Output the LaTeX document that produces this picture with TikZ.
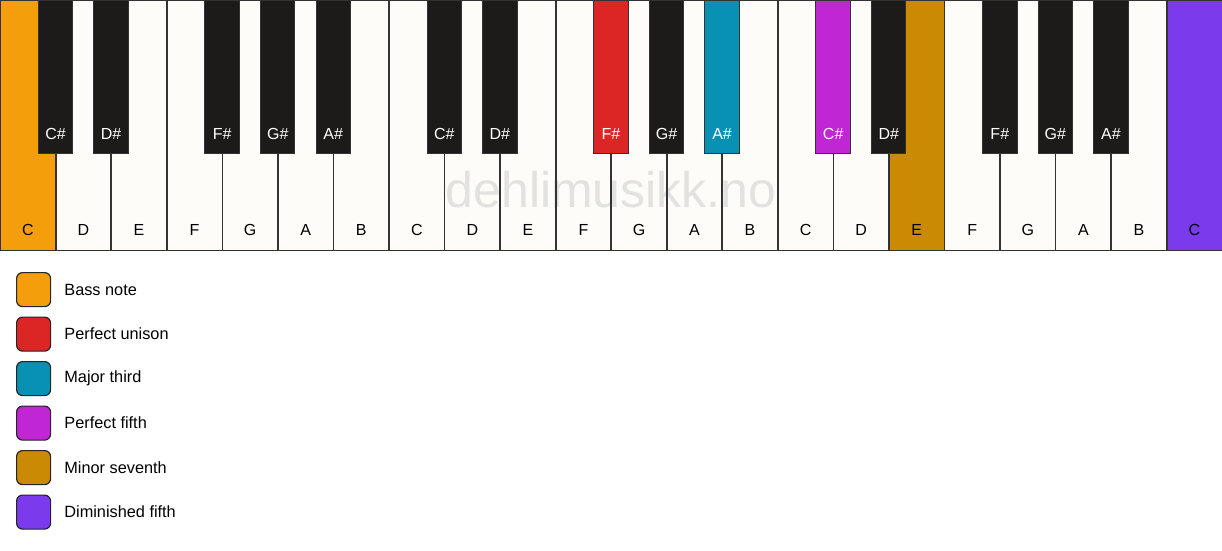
\documentclass[tikz,border=0pt]{standalone}
\usepackage{fontspec}
\setmainfont{Liberation Sans}
\definecolor{wkfill}{HTML}{FDFCF8}
\definecolor{bkfill}{HTML}{1C1B19}
\definecolor{keyline}{HTML}{333333}
\definecolor{cbass}{HTML}{F59E0B}
\definecolor{cunison}{HTML}{DC2626}
\definecolor{cthird}{HTML}{0891B2}
\definecolor{cfifth}{HTML}{C026D3}
\definecolor{cseventh}{HTML}{CA8A04}
\definecolor{cdim}{HTML}{7C3AED}
\definecolor{wmark}{HTML}{E2E2E0}
\tikzset{
  whitekey/.style={rectangle, inner sep=0pt, minimum width=55.545pt, minimum height=250pt, anchor=north west, fill=wkfill},
  keyborder/.style={draw=keyline, line width=1.3pt},
  blackkey/.style={rectangle, inner sep=0pt, minimum width=34.5pt, minimum height=153pt, anchor=north, fill=bkfill, draw=keyline, line width=1pt},
  wlabel/.style={font=\fontsize{16}{19}\selectfont, text=black},
  blabel/.style={font=\fontsize{16}{19}\selectfont, text=white},
  legbox/.style={rectangle, rounded corners=6pt, minimum width=34pt, minimum height=34pt, inner sep=0pt, draw=black!85, line width=1.2pt, anchor=north west},
  legtext/.style={font=\fontsize{16.3}{19}\selectfont, anchor=west, inner sep=0pt},
}
\begin{document}
\begin{tikzpicture}[x=1pt,y=-1pt]
\useasboundingbox[fill=white] (0,0) rectangle (1222,550);
% white key fills
\foreach \i/\n/\c in {0/C/cbass,1/D/wkfill,2/E/wkfill,3/F/wkfill,4/G/wkfill,5/A/wkfill,6/B/wkfill,
  7/C/wkfill,8/D/wkfill,9/E/wkfill,10/F/wkfill,11/G/wkfill,12/A/wkfill,13/B/wkfill,
  14/C/wkfill,15/D/wkfill,16/E/cseventh,17/F/wkfill,18/G/wkfill,19/A/wkfill,20/B/wkfill,21/C/cdim}{
  \node[whitekey, fill=\c] (w\i) at ({\i*55.545},0) {};
}
% watermark
\node[font=\fontsize{50}{60}\selectfont, text=wmark, anchor=base, inner sep=0pt] (wm) at (611,207) {dehlimusikk.no};
% white key borders and labels
\foreach \i/\n in {0/C,1/D,2/E,3/F,4/G,5/A,6/B,7/C,8/D,9/E,10/F,11/G,12/A,13/B,14/C,15/D,16/E,17/F,18/G,19/A,20/B,21/C}{
  \draw[keyborder] (w\i.north west) rectangle (w\i.south east);
  \node[wlabel] (wl\i) at ([yshift=20pt]w\i.south) {\n};
}
% black keys
\foreach \b/\n/\c in {1/C\#/bkfill,2/D\#/bkfill,4/F\#/bkfill,5/G\#/bkfill,6/A\#/bkfill,
  8/C\#/bkfill,9/D\#/bkfill,11/F\#/cunison,12/G\#/bkfill,13/A\#/cthird,
  15/C\#/cfifth,16/D\#/bkfill,18/F\#/bkfill,19/G\#/bkfill,20/A\#/bkfill}{
  \node[blackkey, fill=\c] (b\b) at ({\b*55.545},0) {};
  \node[blabel] (bl\b) at ([yshift=20pt]b\b.south) {\n};
}
% legend
\foreach \k/\c/\t in {0/cbass/Bass note,1/cunison/Perfect unison,2/cthird/Major third,3/cfifth/Perfect fifth,4/cseventh/Minor seventh,5/cdim/Diminished fifth}{
  \node[legbox, fill=\c] (lb\k) at (16,{272+\k*44.5}) {};
  \node[legtext] (lt\k) at ([xshift=13pt]lb\k.east) {\t};
}
\end{tikzpicture}
\end{document}
